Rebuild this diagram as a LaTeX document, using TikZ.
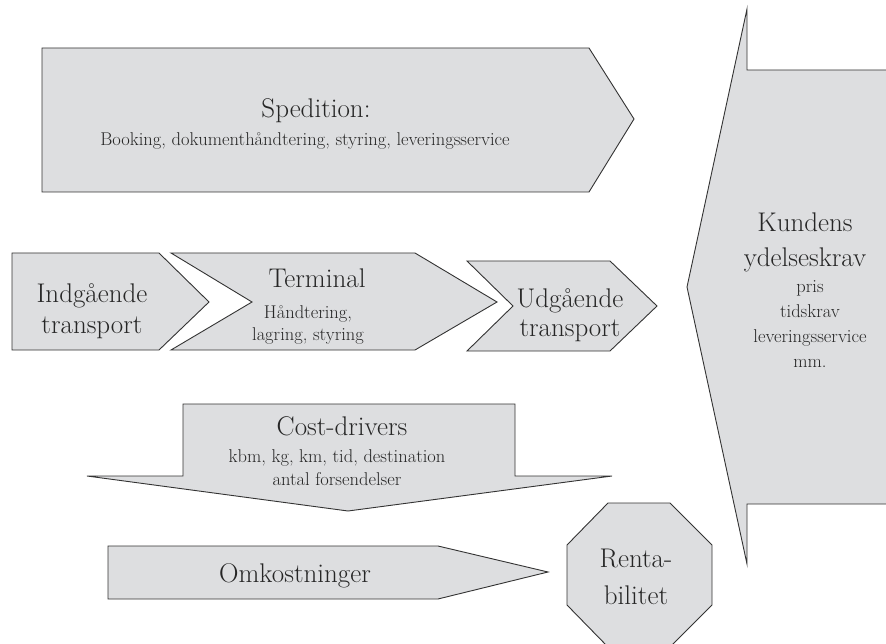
\documentclass[tikz,border=0pt]{standalone}
\usepackage{fontspec}
\usepackage{tikz}
\definecolor{blokgraa}{RGB}{221,222,224}

\begin{document}
\begin{tikzpicture}[x=1pt,y=-1pt,
    blok/.style={fill=blokgraa,draw=black!80,line width=.9pt},
    stor/.style={font=\fontsize{27}{30}\selectfont,align=center,text=black!85,inner sep=0pt,anchor=base},
    lille/.style={font=\fontsize{18.5}{23}\selectfont,align=center,text=black!85,inner sep=0pt,anchor=base}]
        \clip (0,0) rectangle (886,644);
        \draw[blok] (42,48) -- (589,48) -- (634,119) -- (589,192) -- (42,192) -- cycle;
        \draw[blok] (12,253) -- (159,253) -- (209,302) -- (159,350) -- (12,350) -- cycle;
        \draw[blok] (171,253) -- (415,253) -- (497,302) -- (415,350) -- (171,350) -- (252,302) -- cycle;
        \draw[blok] (467,261) -- (610,261) -- (657,306) -- (610,351) -- (467,351) -- (513,306) -- cycle;
        \draw[blok] (896,70) -- (747,70) -- (747,9) -- (687,287) -- (747,564) -- (747,504) -- (896,504) -- cycle;
        \draw[blok] (183,404) -- (515,404) -- (515,476) -- (612,476) -- (348,511) -- (87,476) -- (183,476) -- cycle;
        \draw[blok] (108,546) -- (438,546) -- (548,572) -- (438,599) -- (108,599) -- cycle;
        \draw[blok] (608,503) -- (670,503) -- (712,545) -- (712,605) -- (670,647) -- (608,647) -- (567,605) -- (567,545) -- cycle;

        \node[stor] (sped) at (316,118) {Spedition:};
        \node[lille] (spedtxt) at (305,146) {Booking, dokumenthåndtering, styring, leveringsservice};
        \node[stor] (ind) at (92,333) {Indgående\\transport};
        \node[stor] (term) at (317,288) {Terminal};
        \node[lille,font=\fontsize{18.5}{22}\selectfont] (termtxt) at (308,340) {Håndtering,\\lagring, styring};
        \node[stor,font=\fontsize{27}{29}\selectfont] (udg) at (570,337) {Udgående\\transport};
        \node[stor,font=\fontsize{27}{35}\selectfont] (kunde) at (805,267) {Kundens\\ydelseskrav};
        \node[lille,font=\fontsize{18.5}{24.7}\selectfont] (kundetxt) at (810,367) {pris\\tidskrav\\leveringsservice\\mm.};
        \node[stor] (cost) at (342,435) {Cost-drivers};
        \node[lille] (costtxt) at (337,485) {kbm, kg, km, tid, destination\\antal forsendelser};
        \node[stor] (omk) at (295,582) {Omkostninger};
        \node[stor,font=\fontsize{27}{37}\selectfont] (rent) at (636,604) {Renta-\\bilitet};
\end{tikzpicture}
\end{document}
